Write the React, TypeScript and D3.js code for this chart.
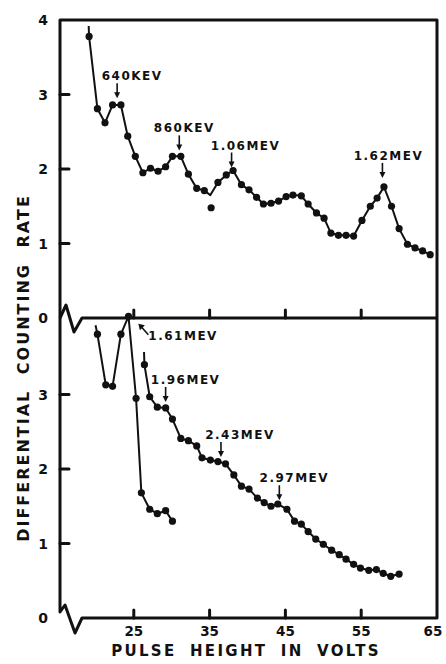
import React from "react";
import * as d3 from "d3";

const W = 446;
const H = 664;

// upper spectrum (dots joined by the drawn curve)
const upperVolts = [19.1, 20.2, 21.2, 22.2, 23.3, 24.2, 25.2, 26.2, 27.2, 28.2, 29.2, 30.1, 31.2, 32.2, 33.3, 34.3, 36.1, 37.2, 38.1, 39.2, 40.2, 41.2, 42.1, 43.1, 44.1, 45.1, 46.0, 47.1, 48.0, 49.1, 50.1, 51.0, 52.0, 53.0, 54.0, 55.1, 56.2, 57.1, 58.0, 59.0, 60.0, 61.1, 62.1, 63.1, 64.1];
const upperRate = [3.78, 2.81, 2.62, 2.86, 2.86, 2.44, 2.17, 1.95, 2.01, 1.97, 2.03, 2.17, 2.17, 1.93, 1.74, 1.71, 1.82, 1.92, 1.98, 1.79, 1.72, 1.62, 1.53, 1.54, 1.57, 1.63, 1.65, 1.64, 1.53, 1.41, 1.34, 1.14, 1.11, 1.11, 1.10, 1.31, 1.50, 1.61, 1.76, 1.50, 1.20, 0.99, 0.94, 0.90, 0.85];
// curve passes here without a dot
const upperBendVolts = [19.05, 35.1];
const upperBendRate = [3.92, 1.65];
// the dot that sits off the curve
const upperStrayVolts = [35.2];
const upperStrayRate = [1.48];

// lower spectrum, first run
const lowerAVolts = [20.2, 21.3, 22.2, 23.3, 24.3, 25.3, 26.0, 27.1, 28.1, 29.2, 30.1];
const lowerARate = [3.81, 3.13, 3.11, 3.81, 4.05, 2.95, 1.68, 1.46, 1.40, 1.44, 1.30];
const lowerABendVolts = [19.95];
const lowerABendRate = [3.93];

// lower spectrum, second run
const lowerBVolts = [26.4, 27.1, 28.1, 29.2, 30.1, 31.2, 32.2, 33.3, 34.0, 35.1, 36.1, 37.1, 38.2, 39.2, 40.2, 41.3, 42.2, 43.1, 44.0, 45.2, 46.2, 47.1, 48.0, 49.0, 50.0, 51.1, 52.1, 53.0, 54.0, 54.9, 56.0, 57.0, 57.9, 58.9, 60.0];
const lowerBRate = [3.40, 2.97, 2.83, 2.82, 2.67, 2.41, 2.38, 2.31, 2.15, 2.12, 2.10, 2.07, 1.92, 1.77, 1.73, 1.61, 1.55, 1.50, 1.53, 1.46, 1.30, 1.26, 1.16, 1.06, 0.99, 0.91, 0.85, 0.79, 0.72, 0.67, 0.64, 0.65, 0.60, 0.56, 0.59];
const lowerBBendVolts = [26.35];
const lowerBBendRate = [3.57];

// peak markers
const upperPeakText = ["640KEV", "860KEV", "1.06MEV", "1.62MEV"];
const upperPeakVolts = [22.8, 31.0, 37.9, 57.8];
const upperPeakRate = [2.95, 2.25, 2.02, 1.88];
const lowerPeakText = ["1.96MEV", "2.43MEV", "2.97MEV"];
const lowerPeakVolts = [29.2, 36.5, 44.2];
const lowerPeakRate = [2.9, 2.16, 1.58];
const edgeText = "1.61MEV";
const edgeVolts = 25.6;
const edgeRate = 3.95;

const voltTicks = [25, 35, 45, 55, 65];
const upperRateTicks = [0, 1, 2, 3, 4];
const lowerRateTicks = [0, 1, 2, 3];

// label placement relative to the arrow (layout only)
const upperLabelShift = [15, 5, 14, 6];
const lowerLabelShift = [20, 19, 15];

const INK = "#111";
const FONT = "'DejaVu Sans', sans-serif";

const zip = (xs: number[], ys: number[]) => xs.map((v, i) => [v, ys[i]] as [number, number]);

export default function App() {
  const x = d3.scaleLinear().domain([15, 65]).range([58, 437]);
  const yUp = d3.scaleLinear().domain([0, 4]).range([318, 20]);
  const yLo = d3.scaleLinear().domain([0, 4]).range([618, 320]);

  const left = 60;
  const right = x(65);
  const top = yUp(4);
  const mid = yUp(0);
  const base = yLo(0);

  const lineUp = d3.line<[number, number]>().x((d) => x(d[0])).y((d) => yUp(d[1]));
  const lineLo = d3.line<[number, number]>().x((d) => x(d[0])).y((d) => yLo(d[1]));

  const upperCurve = [...zip(upperVolts, upperRate), ...zip(upperBendVolts, upperBendRate)].sort((a, b) => a[0] - b[0]);
  const lowerACurve = [...zip(lowerABendVolts, lowerABendRate), ...zip(lowerAVolts, lowerARate)];
  const lowerBCurve = [...zip(lowerBBendVolts, lowerBBendRate), ...zip(lowerBVolts, lowerBRate)];

  const framePath = `M${left + 22},${base} L${right},${base} L${right},${top} L${left},${top} L${left},${base - 6} L${left + 5},${base - 13} L${left + 15},${base + 15} L${left + 22},${base} Z`;
  const midPath = `M${left},${mid} L${left + 6},${mid - 13} L${left + 14},${mid + 14} L${left + 22},${mid} L${right},${mid}`;

  const dot = (cx: number, cy: number, k: string) => <circle key={k} cx={cx} cy={cy} r={3.6} fill={INK} />;

  const arrow = (ax: number, tipY: number, k: string) => (
    <g key={k}>
      <line x1={ax} x2={ax} y1={tipY - 15} y2={tipY - 4} stroke={INK} strokeWidth={1.6} />
      <path d={`M${ax - 3},${tipY - 6} L${ax + 3},${tipY - 6} L${ax},${tipY} Z`} fill={INK} />
    </g>
  );

  const labelStyle = { fontFamily: FONT, fontWeight: 700, fontSize: 12, letterSpacing: 1.5 } as React.CSSProperties;

  return (
    <svg width={W} height={H} viewBox={`0 0 ${W} ${H}`} style={{ position: "absolute", left: 0, top: 0, background: "#fff" }}>
      <rect width={W} height={H} fill="#fff" />
      <path d={framePath} fill="none" stroke={INK} strokeWidth={3} strokeLinejoin="round" />
      <path d={midPath} fill="none" stroke={INK} strokeWidth={3} strokeLinejoin="round" />

      {/* x ticks on the middle line and the base line */}
      {voltTicks.filter((v) => v < 65).map((v) => (
        <g key={`xt${v}`}>
          <line x1={x(v)} x2={x(v)} y1={mid} y2={mid - 8} stroke={INK} strokeWidth={3} strokeLinecap="round" />
          <line x1={x(v)} x2={x(v)} y1={base} y2={base - 8} stroke={INK} strokeWidth={3} strokeLinecap="round" />
        </g>
      ))}
      {voltTicks.map((v) => (
        <text key={`xl${v}`} x={x(v) - (v === 65 ? 4 : 0)} y={636} textAnchor="middle" fontFamily={FONT} fontWeight={700} fontSize={13.5} fill={INK}>
          {v}
        </text>
      ))}

      {/* y ticks */}
      {upperRateTicks.filter((v) => v > 0 && v < 4).map((v) => (
        <line key={`yu${v}`} x1={left} x2={left + 9} y1={yUp(v)} y2={yUp(v)} stroke={INK} strokeWidth={3} strokeLinecap="round" />
      ))}
      {lowerRateTicks.filter((v) => v > 0).map((v) => (
        <line key={`yl${v}`} x1={left} x2={left + 9} y1={yLo(v)} y2={yLo(v)} stroke={INK} strokeWidth={3} strokeLinecap="round" />
      ))}
      {upperRateTicks.map((v) => (
        <text key={`yut${v}`} x={43} y={yUp(v)} dy="0.36em" textAnchor="middle" fontFamily={FONT} fontWeight={700} fontSize={14} fill={INK}>
          {v}
        </text>
      ))}
      {lowerRateTicks.map((v) => (
        <text key={`ylt${v}`} x={43} y={yLo(v)} dy="0.36em" textAnchor="middle" fontFamily={FONT} fontWeight={700} fontSize={14} fill={INK}>
          {v}
        </text>
      ))}

      {/* axis titles */}
      <text x={246} y={656} textAnchor="middle" fontFamily={FONT} fontWeight={700} fontSize={15} letterSpacing={2.3} wordSpacing={6} fill={INK}>
        PULSE HEIGHT IN VOLTS
      </text>
      <text transform="translate(29,368) rotate(-90)" textAnchor="middle" fontFamily={FONT} fontWeight={700} fontSize={16} letterSpacing={2} wordSpacing={8} fill={INK}>
        DIFFERENTIAL COUNTING RATE
      </text>

      {/* curves */}
      <path d={lineUp(upperCurve) || ""} fill="none" stroke={INK} strokeWidth={2} strokeLinejoin="round" />
      <path d={lineLo(lowerACurve) || ""} fill="none" stroke={INK} strokeWidth={2} strokeLinejoin="round" />
      <path d={lineLo(lowerBCurve) || ""} fill="none" stroke={INK} strokeWidth={2} strokeLinejoin="round" />

      {upperVolts.map((v, i) => dot(x(v), yUp(upperRate[i]), `u${i}`))}
      {upperStrayVolts.map((v, i) => dot(x(v), yUp(upperStrayRate[i]), `s${i}`))}
      {lowerAVolts.map((v, i) => dot(x(v), yLo(lowerARate[i]), `a${i}`))}
      {lowerBVolts.map((v, i) => dot(x(v), yLo(lowerBRate[i]), `b${i}`))}

      {/* peak labels */}
      {upperPeakText.map((t, i) => {
        const ax = x(upperPeakVolts[i]);
        const tip = yUp(upperPeakRate[i]);
        return (
          <g key={`up${i}`}>
            {arrow(ax, tip, `ua${i}`)}
            <text x={ax + upperLabelShift[i]} y={tip - 18} textAnchor="middle" fill={INK} style={labelStyle}>
              {t}
            </text>
          </g>
        );
      })}
      {lowerPeakText.map((t, i) => {
        const ax = x(lowerPeakVolts[i]);
        const tip = yLo(lowerPeakRate[i]);
        return (
          <g key={`lp${i}`}>
            {arrow(ax, tip, `la${i}`)}
            <text x={ax + lowerLabelShift[i]} y={tip - 18} textAnchor="middle" fill={INK} style={labelStyle}>
              {t}
            </text>
          </g>
        );
      })}
      <g>
        <line x1={x(edgeVolts) + 10} y1={yLo(edgeRate) + 11} x2={x(edgeVolts) + 2} y2={yLo(edgeRate) + 2} stroke={INK} strokeWidth={1.6} />
        <path d={`M${x(edgeVolts)},${yLo(edgeRate)} L${x(edgeVolts) + 6.5},${yLo(edgeRate) + 1.5} L${x(edgeVolts) + 1.5},${yLo(edgeRate) + 6.5} Z`} fill={INK} />
        <text x={x(edgeVolts) + 10} y={yLo(edgeRate) + 16} fill={INK} style={labelStyle}>
          {edgeText}
        </text>
      </g>
    </svg>
  );
}
